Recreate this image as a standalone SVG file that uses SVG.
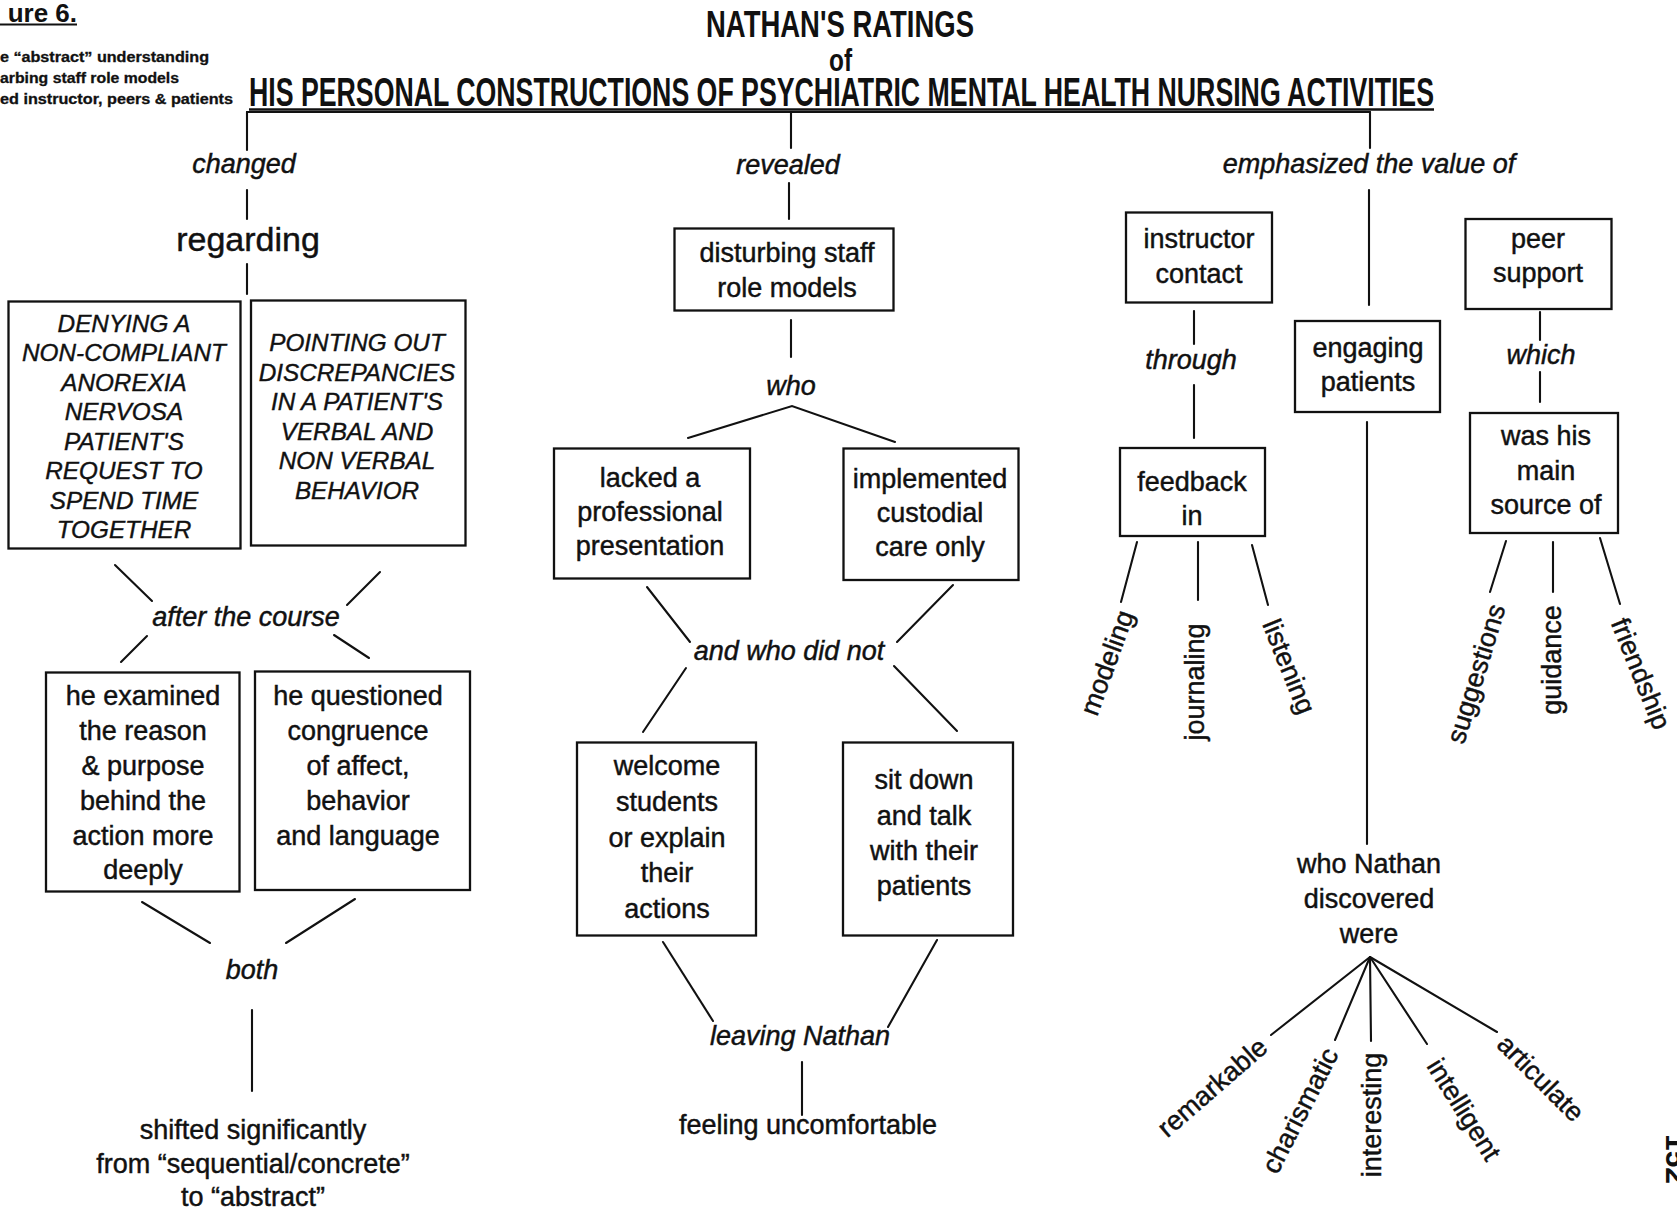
<svg xmlns="http://www.w3.org/2000/svg" width="1677" height="1214" viewBox="0 0 1677 1214">
  <style>
    .bg { fill: #ffffff; }
    .box { fill: none; stroke: #111; stroke-width: 2.3; }
    .ln { stroke: #111; stroke-width: 2.1; fill: none; stroke-linecap: round; }
    .t { font-family: "Liberation Sans", Arial, sans-serif; font-size: 27px; fill: #111; stroke: #111; stroke-width: 0.45; text-anchor: middle; }
    .big { font-size: 34px; }
    .it { font-family: "Liberation Sans", Arial, sans-serif; font-size: 27px; font-style: italic; fill: #111; stroke: #111; stroke-width: 0.45; text-anchor: middle; }
    .cap { font-family: "Liberation Sans", Arial, sans-serif; font-size: 24.3px; font-style: italic; fill: #111; stroke: #111; stroke-width: 0.4; text-anchor: middle; }
    .ttl { font-family: "Liberation Sans", Arial, sans-serif; font-weight: bold; fill: #111; }
    .leg { font-family: "Liberation Sans", Arial, sans-serif; font-weight: bold; font-size: 14px; fill: #111; stroke: #111; stroke-width: 0.3; }
    .rot { font-family: "Liberation Sans", Arial, sans-serif; font-size: 27px; fill: #111; stroke: #111; stroke-width: 0.45; text-anchor: middle; }
  </style>
  <rect class="bg" x="0" y="0" width="1677" height="1214"/>

  <!-- heading -->
  <g id="heading">
    <text class="ttl" x="77" y="21.5" font-size="26" text-anchor="end" font-weight="normal">ure 6.</text>
    <line x1="0" y1="24.5" x2="77" y2="24.5" stroke="#111" stroke-width="2"/>
    <text class="ttl" x="706" y="37" font-size="37" textLength="268" lengthAdjust="spacingAndGlyphs">NATHAN'S  RATINGS</text>
    <text class="ttl" x="829" y="71" font-size="32" textLength="23" lengthAdjust="spacingAndGlyphs">of</text>
    <text class="ttl" x="249" y="106" font-size="40" textLength="1185" lengthAdjust="spacingAndGlyphs">HIS PERSONAL CONSTRUCTIONS OF PSYCHIATRIC MENTAL HEALTH NURSING ACTIVITIES</text>
    <line x1="249" y1="109.5" x2="1434" y2="109.5" stroke="#111" stroke-width="2.5"/>
  </g>

  <!-- legend -->
  <g id="legend">
    <text class="leg" x="0" y="62" textLength="209" lengthAdjust="spacingAndGlyphs">e “abstract” understanding</text>
    <text class="leg" x="0" y="83" textLength="179" lengthAdjust="spacingAndGlyphs">arbing staff role models</text>
    <text class="leg" x="0" y="104" textLength="233" lengthAdjust="spacingAndGlyphs">ed instructor, peers &amp; patients</text>
  </g>

  <!-- connectors -->
  <g id="connectors">
    <!-- top bracket -->
    <line class="ln" x1="247" y1="112" x2="1370" y2="112"/>
    <line class="ln" x1="247" y1="112" x2="247" y2="150"/>
    <line class="ln" x1="791" y1="112" x2="791" y2="148"/>
    <line class="ln" x1="1370" y1="112" x2="1370" y2="148"/>
    <!-- left branch -->
    <line class="ln" x1="247" y1="190" x2="247" y2="219"/>
    <line class="ln" x1="247" y1="264" x2="247" y2="294"/>
    <line class="ln" x1="115" y1="565" x2="152" y2="601"/>
    <line class="ln" x1="380" y1="572" x2="347" y2="605"/>
    <line class="ln" x1="147" y1="636" x2="121" y2="662"/>
    <line class="ln" x1="334" y1="635" x2="369" y2="658"/>
    <line class="ln" x1="142" y1="902" x2="210" y2="943"/>
    <line class="ln" x1="355" y1="899" x2="286" y2="943"/>
    <line class="ln" x1="252" y1="1010" x2="252" y2="1091"/>
    <!-- middle branch -->
    <line class="ln" x1="789" y1="183" x2="789" y2="219"/>
    <line class="ln" x1="791" y1="320" x2="791" y2="357"/>
    <polyline class="ln" points="688,438 792,406 895,442"/>
    <line class="ln" x1="647" y1="587" x2="690" y2="642"/>
    <line class="ln" x1="953" y1="585" x2="897" y2="642"/>
    <line class="ln" x1="686" y1="668" x2="643" y2="732"/>
    <line class="ln" x1="894" y1="666" x2="957" y2="731"/>
    <line class="ln" x1="663" y1="942" x2="713" y2="1021"/>
    <line class="ln" x1="937" y1="940" x2="888" y2="1027"/>
    <line class="ln" x1="802" y1="1062" x2="802" y2="1115"/>
    <!-- right branch -->
    <line class="ln" x1="1369" y1="190" x2="1369" y2="305"/>
    <line class="ln" x1="1194" y1="311" x2="1194" y2="344"/>
    <line class="ln" x1="1194" y1="385" x2="1194" y2="438"/>
    <line class="ln" x1="1137" y1="542" x2="1121" y2="602"/>
    <line class="ln" x1="1198" y1="542" x2="1198" y2="600"/>
    <line class="ln" x1="1252" y1="545" x2="1268" y2="605"/>
    <line class="ln" x1="1540" y1="312" x2="1540" y2="340"/>
    <line class="ln" x1="1540" y1="372" x2="1540" y2="402"/>
    <line class="ln" x1="1506" y1="541" x2="1490" y2="592"/>
    <line class="ln" x1="1553" y1="542" x2="1553" y2="592"/>
    <line class="ln" x1="1600" y1="538" x2="1620" y2="604"/>
    <line class="ln" x1="1367" y1="422" x2="1367" y2="844"/>
    <line class="ln" x1="1370" y1="957" x2="1271" y2="1035"/>
    <line class="ln" x1="1370" y1="957" x2="1335" y2="1040"/>
    <line class="ln" x1="1370" y1="957" x2="1371" y2="1041"/>
    <line class="ln" x1="1370" y1="957" x2="1427" y2="1044"/>
    <line class="ln" x1="1370" y1="957" x2="1497" y2="1032"/>
  </g>

  <!-- left column -->
  <g id="n-changed"><text class="it" x="244" y="173">changed</text></g>
  <g id="n-regarding"><text class="t big" x="248" y="251">regarding</text></g>
  <g id="n-denying">
    <rect class="box" x="8.5" y="301.5" width="232" height="247"/>
    <text class="cap" x="124" y="331.5">DENYING A</text>
    <text class="cap" x="124" y="361">NON-COMPLIANT</text>
    <text class="cap" x="124" y="390.5">ANOREXIA</text>
    <text class="cap" x="124" y="420">NERVOSA</text>
    <text class="cap" x="124" y="449.5">PATIENT'S</text>
    <text class="cap" x="124" y="479">REQUEST TO</text>
    <text class="cap" x="124" y="508.5">SPEND TIME</text>
    <text class="cap" x="124" y="538">TOGETHER</text>
  </g>
  <g id="n-pointing">
    <rect class="box" x="251" y="300.5" width="214.5" height="245"/>
    <text class="cap" x="357" y="351">POINTING OUT</text>
    <text class="cap" x="357" y="380.5">DISCREPANCIES</text>
    <text class="cap" x="357" y="410">IN A PATIENT'S</text>
    <text class="cap" x="357" y="439.5">VERBAL AND</text>
    <text class="cap" x="357" y="469">NON VERBAL</text>
    <text class="cap" x="357" y="498.5">BEHAVIOR</text>
  </g>
  <g id="n-after"><text class="it" x="246" y="626">after the course</text></g>
  <g id="n-examined">
    <rect class="box" x="46" y="672.5" width="193.5" height="219"/>
    <text class="t" x="143" y="705">he examined</text>
    <text class="t" x="143" y="740">the reason</text>
    <text class="t" x="143" y="775">&amp; purpose</text>
    <text class="t" x="143" y="810">behind the</text>
    <text class="t" x="143" y="845">action more</text>
    <text class="t" x="143" y="879">deeply</text>
  </g>
  <g id="n-questioned">
    <rect class="box" x="255" y="671.5" width="215" height="218.5"/>
    <text class="t" x="358" y="705">he questioned</text>
    <text class="t" x="358" y="740">congruence</text>
    <text class="t" x="358" y="775">of affect,</text>
    <text class="t" x="358" y="810">behavior</text>
    <text class="t" x="358" y="845">and language</text>
  </g>
  <g id="n-both"><text class="it" x="252" y="979">both</text></g>
  <g id="n-shifted">
    <text class="t" x="253" y="1139">shifted significantly</text>
    <text class="t" x="253" y="1173">from “sequential/concrete”</text>
    <text class="t" x="253" y="1206">to “abstract”</text>
  </g>

  <!-- middle column -->
  <g id="n-revealed"><text class="it" x="788" y="174">revealed</text></g>
  <g id="n-disturbing">
    <rect class="box" x="674.5" y="228.5" width="219" height="82"/>
    <text class="t" x="787" y="262">disturbing staff</text>
    <text class="t" x="787" y="297">role models</text>
  </g>
  <g id="n-who"><text class="it" x="791" y="395">who</text></g>
  <g id="n-lacked">
    <rect class="box" x="554" y="448.5" width="196" height="130"/>
    <text class="t" x="650" y="487">lacked a</text>
    <text class="t" x="650" y="521">professional</text>
    <text class="t" x="650" y="555">presentation</text>
  </g>
  <g id="n-implemented">
    <rect class="box" x="843.5" y="448.5" width="175" height="131.5"/>
    <text class="t" x="930" y="488">implemented</text>
    <text class="t" x="930" y="522">custodial</text>
    <text class="t" x="930" y="556">care only</text>
  </g>
  <g id="n-didnot"><text class="it" x="789" y="660">and who did not</text></g>
  <g id="n-welcome">
    <rect class="box" x="577" y="742.5" width="179" height="193"/>
    <text class="t" x="667" y="775">welcome</text>
    <text class="t" x="667" y="811">students</text>
    <text class="t" x="667" y="846.5">or explain</text>
    <text class="t" x="667" y="882">their</text>
    <text class="t" x="667" y="917.5">actions</text>
  </g>
  <g id="n-sitdown">
    <rect class="box" x="843" y="742.5" width="170" height="193"/>
    <text class="t" x="924" y="789">sit down</text>
    <text class="t" x="924" y="825">and talk</text>
    <text class="t" x="924" y="860">with their</text>
    <text class="t" x="924" y="895">patients</text>
  </g>
  <g id="n-leaving"><text class="it" x="800" y="1045">leaving Nathan</text></g>
  <g id="n-feeling"><text class="t" x="808" y="1134">feeling uncomfortable</text></g>

  <!-- right column -->
  <g id="n-emphasized"><text class="it" x="1369" y="173">emphasized the value of</text></g>
  <g id="n-instructor">
    <rect class="box" x="1126" y="212.5" width="146" height="90"/>
    <text class="t" x="1199" y="248">instructor</text>
    <text class="t" x="1199" y="283">contact</text>
  </g>
  <g id="n-through"><text class="it" x="1191" y="369">through</text></g>
  <g id="n-feedback">
    <rect class="box" x="1120" y="448" width="145" height="88"/>
    <text class="t" x="1192" y="491">feedback</text>
    <text class="t" x="1192" y="525">in</text>
  </g>
  <g id="n-modeling"><text class="rot" transform="translate(1108,663) rotate(-70)" dy="0.3em">modeling</text></g>
  <g id="n-journaling"><text class="rot" transform="translate(1196,682) rotate(-90)" dy="0.3em">journaling</text></g>
  <g id="n-listening"><text class="rot" transform="translate(1288,667) rotate(68)" dy="0.3em">listening</text></g>
  <g id="n-engaging">
    <rect class="box" x="1295" y="321" width="145" height="91"/>
    <text class="t" x="1368" y="357">engaging</text>
    <text class="t" x="1368" y="391">patients</text>
  </g>
  <g id="n-whonathan">
    <text class="t" x="1369" y="873">who Nathan</text>
    <text class="t" x="1369" y="908">discovered</text>
    <text class="t" x="1369" y="943">were</text>
  </g>
  <g id="n-remarkable"><text class="rot" transform="translate(1213,1088) rotate(-41)" dy="0.3em">remarkable</text></g>
  <g id="n-charismatic"><text class="rot" transform="translate(1301,1111) rotate(-63)" dy="0.3em">charismatic</text></g>
  <g id="n-interesting"><text class="rot" transform="translate(1373,1115) rotate(-90)" dy="0.3em">interesting</text></g>
  <g id="n-intelligent"><text class="rot" transform="translate(1463,1110) rotate(58)" dy="0.3em">intelligent</text></g>
  <g id="n-articulate"><text class="rot" transform="translate(1540,1079) rotate(45)" dy="0.3em">articulate</text></g>
  <g id="n-peer">
    <rect class="box" x="1465.5" y="219" width="146" height="90"/>
    <text class="t" x="1538" y="248">peer</text>
    <text class="t" x="1538" y="282">support</text>
  </g>
  <g id="n-which"><text class="it" x="1541" y="364">which</text></g>
  <g id="n-mainsource">
    <rect class="box" x="1470" y="413" width="148" height="120"/>
    <text class="t" x="1546" y="445">was his</text>
    <text class="t" x="1546" y="480">main</text>
    <text class="t" x="1546" y="514">source of</text>
  </g>
  <g id="n-suggestions"><text class="rot" transform="translate(1477,674) rotate(-73)" dy="0.3em">suggestions</text></g>
  <g id="n-guidance"><text class="rot" transform="translate(1553,660) rotate(-90)" dy="0.3em">guidance</text></g>
  <g id="n-friendship"><text class="rot" transform="translate(1640,674) rotate(68)" dy="0.3em">friendship</text></g>

  <!-- page number at the margin -->
  <g id="page-number"><text class="ttl" font-weight="normal" font-size="30" transform="translate(1666,1134) rotate(90)">152</text></g>
</svg>
